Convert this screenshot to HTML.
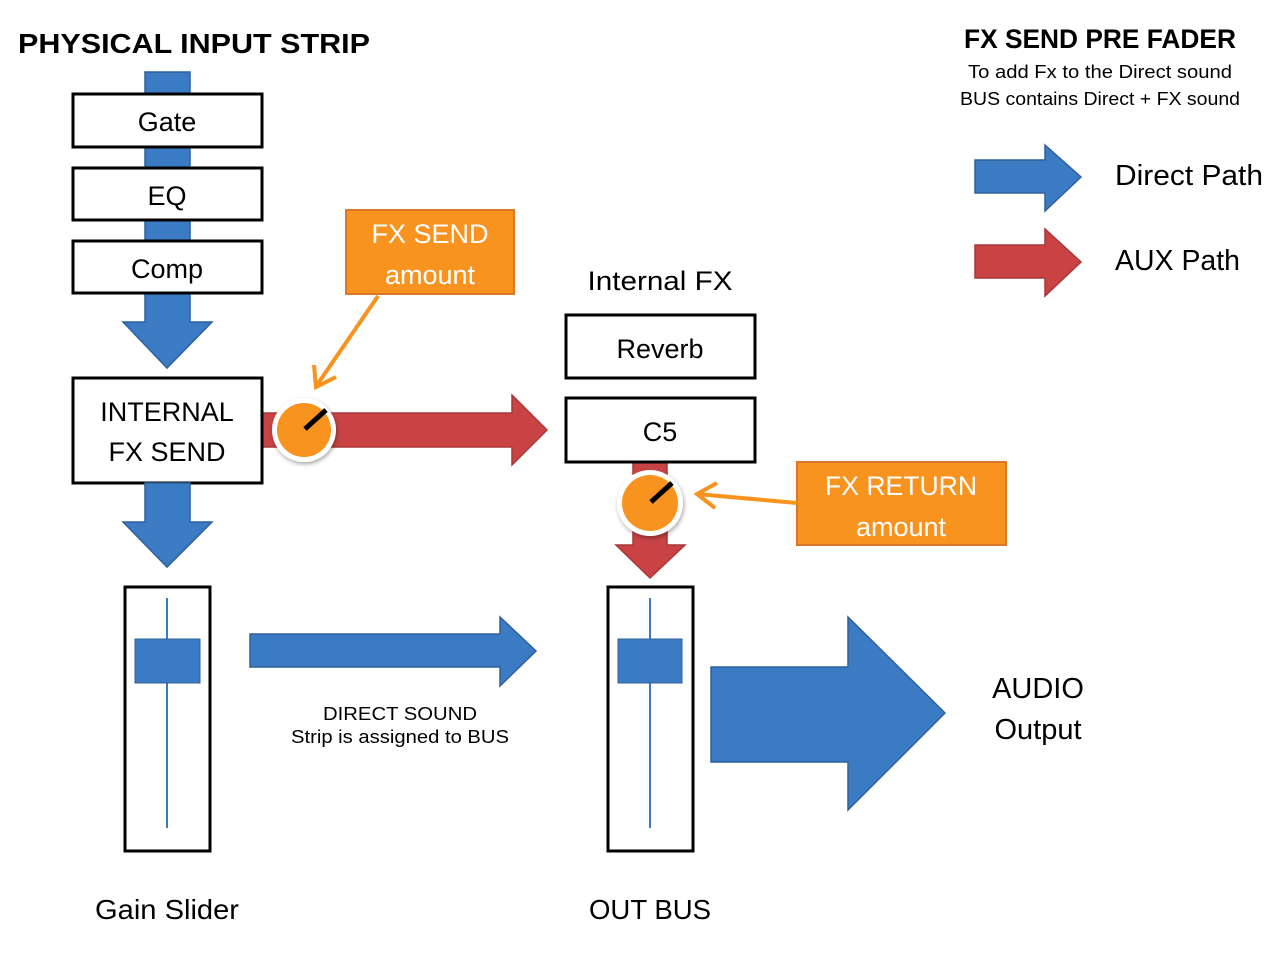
<!DOCTYPE html>
<html><head><meta charset="utf-8"><style>
html,body{margin:0;padding:0;background:#fff;}
svg{display:block;}
text{font-family:"Liberation Sans",Arial,sans-serif;}
</style></head><body>
<svg width="1280" height="961" viewBox="0 0 1280 961" xmlns="http://www.w3.org/2000/svg">
<defs>
<filter id="sh" x="-30%" y="-30%" width="160%" height="160%"><feDropShadow dx="1" dy="2" stdDeviation="2" flood-opacity="0.35"/></filter>
</defs>
<text x="18" y="53" font-size="28" font-weight="bold" fill="#000" textLength="352" lengthAdjust="spacingAndGlyphs">PHYSICAL INPUT STRIP</text>
<polygon points="145,72 190,72 190,322 212,322 167,368 123,322 145,322" fill="#3b7bc4" stroke="#2f609a" stroke-width="1.5"/>
<rect x="73" y="94" width="189" height="53" fill="#fff" stroke="#000" stroke-width="3"/>
<text x="167" y="131" font-size="27" text-anchor="middle">Gate</text>
<rect x="73" y="168" width="189" height="52" fill="#fff" stroke="#000" stroke-width="3"/>
<text x="167" y="205" font-size="27" text-anchor="middle">EQ</text>
<rect x="73" y="241" width="189" height="52" fill="#fff" stroke="#000" stroke-width="3"/>
<text x="167" y="278" font-size="27" text-anchor="middle">Comp</text>
<polygon points="262,413 512,413 512,395 547,430 512,465 512,447 262,447" fill="#c94345" stroke="#a8383a" stroke-width="1.5"/>
<rect x="73" y="378" width="189" height="105" fill="#fff" stroke="#000" stroke-width="3"/>
<text x="167" y="421" font-size="27" text-anchor="middle">INTERNAL</text>
<text x="167" y="461" font-size="27" text-anchor="middle">FX SEND</text>
<polygon points="145,483 190,483 190,522 212,522 167,567 123,522 145,522" fill="#3b7bc4" stroke="#2f609a" stroke-width="1.5"/>
<circle cx="304" cy="430" r="32" fill="#fff" filter="url(#sh)"/>
<circle cx="304" cy="430" r="27" fill="#f7931e"/>
<line x1="305" y1="429" x2="326" y2="410" stroke="#000" stroke-width="5"/>
<rect x="346" y="210" width="168" height="84" fill="#f7931e" stroke="#d9782a" stroke-width="2"/>
<text x="430" y="243" font-size="27" fill="#fff" text-anchor="middle">FX SEND</text>
<text x="430" y="284" font-size="27" fill="#fff" text-anchor="middle">amount</text>
<line x1="378" y1="296" x2="317" y2="385" stroke="#f7931e" stroke-width="4"/>
<polyline points="314,365 316,387 336,377" fill="none" stroke="#f7931e" stroke-width="4"/>
<rect x="125" y="587" width="85" height="264" fill="#fff" stroke="#000" stroke-width="3"/>
<line x1="167" y1="598" x2="167" y2="828" stroke="#3b7bc4" stroke-width="2"/>
<rect x="135" y="639" width="65" height="44" fill="#3b7bc4" stroke="#2f609a" stroke-width="1"/>
<polygon points="250,634 500,634 500,617 536,651 500,686 500,667 250,667" fill="#3b7bc4" stroke="#2f609a" stroke-width="1.5"/>
<text x="400" y="720" font-size="18" text-anchor="middle" textLength="154" lengthAdjust="spacingAndGlyphs">DIRECT SOUND</text>
<text x="400" y="743" font-size="18" text-anchor="middle" textLength="218" lengthAdjust="spacingAndGlyphs">Strip is assigned to BUS</text>
<text x="660" y="290" font-size="27" text-anchor="middle" textLength="145" lengthAdjust="spacingAndGlyphs">Internal FX</text>
<rect x="566" y="315" width="189" height="63" fill="#fff" stroke="#000" stroke-width="3"/>
<text x="660" y="358" font-size="27" text-anchor="middle">Reverb</text>
<polygon points="633,462 667,462 667,545 685,545 650,578 616,545 633,545" fill="#c94345" stroke="#a8383a" stroke-width="1.5"/>
<rect x="566" y="398" width="189" height="64" fill="#fff" stroke="#000" stroke-width="3"/>
<text x="660" y="441" font-size="27" text-anchor="middle">C5</text>
<circle cx="650" cy="503" r="33" fill="#fff" filter="url(#sh)"/>
<circle cx="650" cy="503" r="28" fill="#f7931e"/>
<line x1="651" y1="502" x2="672" y2="483" stroke="#000" stroke-width="5"/>
<rect x="797" y="462" width="209" height="83" fill="#f7931e" stroke="#d9782a" stroke-width="2"/>
<text x="901" y="495" font-size="27" fill="#fff" text-anchor="middle" textLength="152" lengthAdjust="spacingAndGlyphs">FX RETURN</text>
<text x="901" y="536" font-size="27" fill="#fff" text-anchor="middle">amount</text>
<line x1="797" y1="503" x2="697" y2="494" stroke="#f7931e" stroke-width="4"/>
<polyline points="717,483 697,494 715,508" fill="none" stroke="#f7931e" stroke-width="4"/>
<rect x="608" y="587" width="85" height="264" fill="#fff" stroke="#000" stroke-width="3"/>
<line x1="650" y1="598" x2="650" y2="828" stroke="#3b7bc4" stroke-width="2"/>
<rect x="618" y="639" width="64" height="44" fill="#3b7bc4" stroke="#2f609a" stroke-width="1"/>
<polygon points="711,667 848,667 848,617 945,713 848,810 848,762 711,762" fill="#3b7bc4" stroke="#2f609a" stroke-width="1.5"/>
<text x="1038" y="698" font-size="29" text-anchor="middle">AUDIO</text>
<text x="1038" y="739" font-size="29" text-anchor="middle">Output</text>
<text x="167" y="919" font-size="28" text-anchor="middle" textLength="144" lengthAdjust="spacingAndGlyphs">Gain Slider</text>
<text x="650" y="919" font-size="28" text-anchor="middle" textLength="122" lengthAdjust="spacingAndGlyphs">OUT BUS</text>
<text x="1100" y="48" font-size="27" font-weight="bold" text-anchor="middle" textLength="272" lengthAdjust="spacingAndGlyphs">FX SEND PRE FADER</text>
<text x="1100" y="78" font-size="18" text-anchor="middle" textLength="264" lengthAdjust="spacingAndGlyphs">To add Fx to the Direct sound</text>
<text x="1100" y="105" font-size="18" text-anchor="middle" textLength="280" lengthAdjust="spacingAndGlyphs">BUS contains Direct + FX sound</text>
<polygon points="975,160 1045,160 1045,145 1081,177 1045,211 1045,193 975,193" fill="#3b7bc4" stroke="#2f609a" stroke-width="1.5"/>
<text x="1115" y="185" font-size="29" textLength="148" lengthAdjust="spacingAndGlyphs">Direct Path</text>
<polygon points="975,245 1045,245 1045,229 1081,262 1045,296 1045,278 975,278" fill="#c94345" stroke="#a8383a" stroke-width="1.5"/>
<text x="1115" y="270" font-size="29" textLength="125" lengthAdjust="spacingAndGlyphs">AUX Path</text>
</svg>
</body></html>
